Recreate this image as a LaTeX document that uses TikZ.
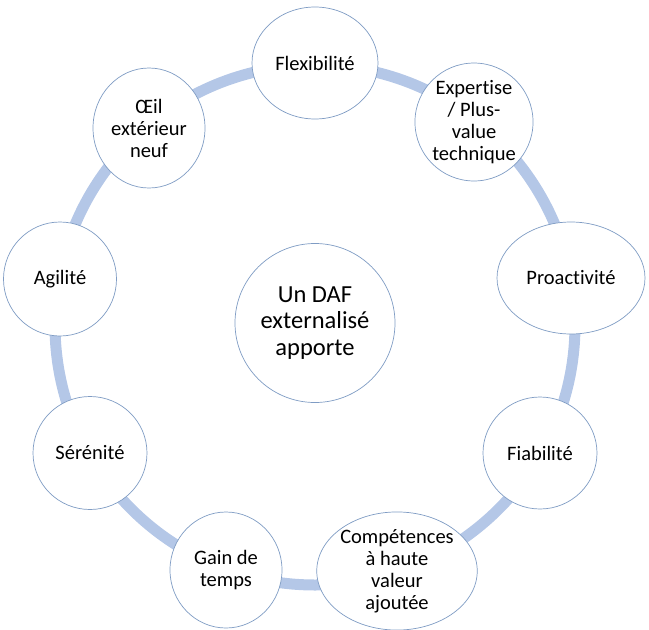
\documentclass[tikz,border=0pt]{standalone}
\usepackage{fontspec}
\setmainfont[RawFeature={-liga;-clig;-calt;-dlig}]{Carlito}
\usetikzlibrary{shapes.geometric}
\definecolor{ringblue}{HTML}{B4C7E7}
\definecolor{edgeblue}{HTML}{7F9CC4}
\begin{document}
\begin{tikzpicture}[x=1pt,y=-1pt,
  bubble/.style={draw=edgeblue,line width=0.7pt,fill=white,ellipse,inner sep=0pt,align=center,
    font=\fontsize{20.5}{22}\selectfont},
  hub/.style={bubble,font=\fontsize{24.5}{26.5}\selectfont},
  ring/.style={draw=ringblue,line width=11pt}]
\useasboundingbox (0,0) rectangle (649,630);
\coordinate (c) at (315,325);
\draw[ring] (c) circle (260);
\node[hub,minimum width=160pt,minimum height=159pt] (hubnode) at (315,323) {Un DAF\\externalisé\\apporte};
\node[bubble,minimum width=126pt,minimum height=112pt] (flex) at (315,63) {Flexibilité};
\node[bubble,minimum width=118pt,minimum height=108pt] (exp) at (474,122) {Expertise\\/ Plus-\\value\\technique};
\node[bubble,minimum width=148pt,minimum height=112pt] (pro) at (571,278) {Proactivité};
\node[bubble,minimum width=114pt,minimum height=112pt] (fia) at (540,453) {Fiabilité};
\node[bubble,minimum width=144pt,minimum height=112pt] (comp) at (397,571) {Compétences\\à haute\\valeur\\ajoutée};
\node[bubble,minimum width=112pt,minimum height=116pt] (gain) at (226,570) {Gain de\\temps};
\node[bubble,minimum width=114pt,minimum height=113pt] (ser) at (90,453) {Sérénité};
\node[bubble,minimum width=113pt,minimum height=114pt] (agi) at (60,279) {Agilité};
\node[bubble,minimum width=112pt,minimum height=120pt] (oeil) at (149,128) {Œil\\extérieur\\neuf};
\end{tikzpicture}
\end{document}
